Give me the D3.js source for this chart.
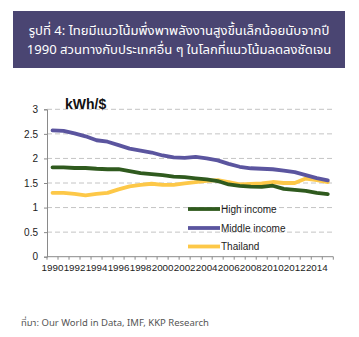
<!DOCTYPE html>
<html>
<head>
<meta charset="utf-8">
<script src="https://cdn.jsdelivr.net/npm/d3@7/dist/d3.min.js"></script>
<style>
  html, body { margin: 0; padding: 0; background: #fff; }
  svg { display: block; }
</style>
</head>
<body>
<svg id="chart" width="359" height="337"></svg>
<script>
// Energy intensity (kWh per $ of GDP), 1990–2015
const years = d3.range(1990, 2016);
const highIncome = [1.82, 1.82, 1.805, 1.805, 1.79, 1.78, 1.78, 1.74, 1.70, 1.68, 1.66, 1.63, 1.62,
  1.595, 1.575, 1.54, 1.47, 1.44, 1.425, 1.42, 1.445, 1.38, 1.36, 1.34, 1.30, 1.275];
const middleIncome = [2.57, 2.56, 2.51, 2.45, 2.37, 2.34, 2.27, 2.20, 2.16, 2.12, 2.06, 2.02, 2.01,
  2.03, 2.00, 1.96, 1.89, 1.83, 1.80, 1.79, 1.78, 1.75, 1.72, 1.66, 1.60, 1.555];
const thailand = [1.30, 1.30, 1.28, 1.25, 1.28, 1.30, 1.37, 1.43, 1.46, 1.485, 1.46, 1.46, 1.49,
  1.52, 1.545, 1.56, 1.52, 1.47, 1.48, 1.49, 1.52, 1.50, 1.50, 1.59, 1.56, 1.52];
const yTicks = [0, 0.5, 1, 1.5, 2, 2.5, 3];
const xTickLabels = years.filter(y => y % 2 === 0);
const seriesNames = ["High income", "Middle income", "Thailand"];
const seriesColors = ["#2f5a1e", "#5b559f", "#fdc848"];
const titleLines = [
  "รูปที่ 4: ไทยมีแนวโน้มพึ่งพาพลังงานสูงขึ้นเล็กน้อยนับจากปี",
  "1990 สวนทางกับประเทศอื่น ๆ ในโลกที่แนวโน้มลดลงชัดเจน"
];
const unitLabel = "kWh/$";
const sourceText = "ที่มา: Our World in Data, IMF, KKP Research";

const svg = d3.select("#chart");
const thaiFont = "'Noto Sans Thai', 'Noto Sans Thai Looped', 'Noto Sans', 'DejaVu Sans', sans-serif";
const axisFont = "'Liberation Sans', Arial, sans-serif";

// Title banner
svg.append("rect")
  .attr("x", 13).attr("y", 11).attr("width", 332).attr("height", 57)
  .attr("fill", "#4a4572");
const titleWidths = [301, 305];
titleLines.forEach((t, i) => {
  const txt = svg.append("text")
    .attr("x", 179).attr("y", i === 0 ? 35 : 54)
    .attr("text-anchor", "middle")
    .attr("fill", "#ffffff")
    .attr("font-family", thaiFont)
    .attr("font-size", 13)
    .text(t);
  const w = txt.node().getComputedTextLength();
  if (w > 0) txt.attr("font-size", 13 * titleWidths[i] / w);
});

// Plot area
const plotLeft = 47, plotRight = 333.3, plotTop = 109.3, plotBottom = 256.7;
const x = d3.scaleBand().domain(years).range([plotLeft, plotRight]);
const y = d3.scaleLinear().domain([0, 3]).range([plotBottom, plotTop]);

// Dashed gridlines
svg.append("g")
  .selectAll("line")
  .data(yTicks.filter(v => v > 0))
  .join("line")
  .attr("x1", plotLeft).attr("x2", plotRight)
  .attr("y1", d => y(d)).attr("y2", d => y(d))
  .attr("stroke", "#c4c4c4")
  .attr("stroke-width", 1)
  .attr("stroke-dasharray", "5,3");

// Y axis
const yAxis = svg.append("g")
  .attr("transform", `translate(${plotLeft},0)`)
  .call(d3.axisLeft(y).tickValues(yTicks).tickSize(3).tickPadding(6)
    .tickFormat(d => d3.format("")(d)));
yAxis.select(".domain").attr("stroke", "#8a8a8a");
yAxis.selectAll(".tick line").attr("stroke", "#8a8a8a");
yAxis.selectAll("text")
  .attr("font-family", axisFont).attr("font-size", 10).attr("fill", "#222");

// X axis: ticks between categories, labels every other year
const xAxisG = svg.append("g").attr("transform", `translate(0,${plotBottom})`);
xAxisG.append("line")
  .attr("x1", plotLeft).attr("x2", plotRight).attr("y1", 0).attr("y2", 0)
  .attr("stroke", "#8a8a8a");
xAxisG.selectAll("line.tk")
  .data(years.concat([null]))
  .join("line")
  .attr("class", "tk")
  .attr("x1", (d, i) => plotLeft + i * x.step())
  .attr("x2", (d, i) => plotLeft + i * x.step())
  .attr("y1", 0).attr("y2", 3)
  .attr("stroke", "#8a8a8a");
xAxisG.selectAll("text")
  .data(xTickLabels)
  .join("text")
  .attr("x", d => x(d) + x.bandwidth() / 2)
  .attr("y", 14)
  .attr("text-anchor", "middle")
  .attr("font-family", axisFont)
  .attr("font-size", 9.8)
  .attr("fill", "#222")
  .text(d => d);

// Unit label
svg.append("text")
  .attr("x", 65).attr("y", 109)
  .attr("font-family", axisFont)
  .attr("font-size", 14)
  .attr("font-weight", "bold")
  .attr("fill", "#111")
  .text(unitLabel);

// Series lines
const line = d3.line()
  .x((d, i) => x(years[i]) + x.bandwidth() / 2)
  .y(d => y(d));
const seriesData = [highIncome, middleIncome, thailand];
svg.append("g")
  .selectAll("path")
  .data([2, 0, 1])
  .join("path")
  .attr("d", k => line(seriesData[k]))
  .attr("fill", "none")
  .attr("stroke", k => seriesColors[k])
  .attr("stroke-width", 3.8)
  .attr("stroke-linejoin", "round")
  .attr("stroke-linecap", "round");

// Legend
const legendY = [209, 228, 246.5];
const legend = svg.append("g");
seriesNames.forEach((name, i) => {
  legend.append("line")
    .attr("x1", 188).attr("x2", 220)
    .attr("y1", legendY[i]).attr("y2", legendY[i])
    .attr("stroke", seriesColors[i])
    .attr("stroke-width", 3.8);
  legend.append("text")
    .attr("x", 221).attr("y", legendY[i] + 3.5)
    .attr("font-family", axisFont)
    .attr("font-size", 10)
    .attr("fill", "#222")
    .text(name);
});

// Source note
svg.append("text")
  .attr("x", 21).attr("y", 326)
  .attr("font-family", thaiFont)
  .attr("font-size", 9.5)
  .attr("fill", "#555")
  .text(sourceText);
</script>
</body>
</html>
